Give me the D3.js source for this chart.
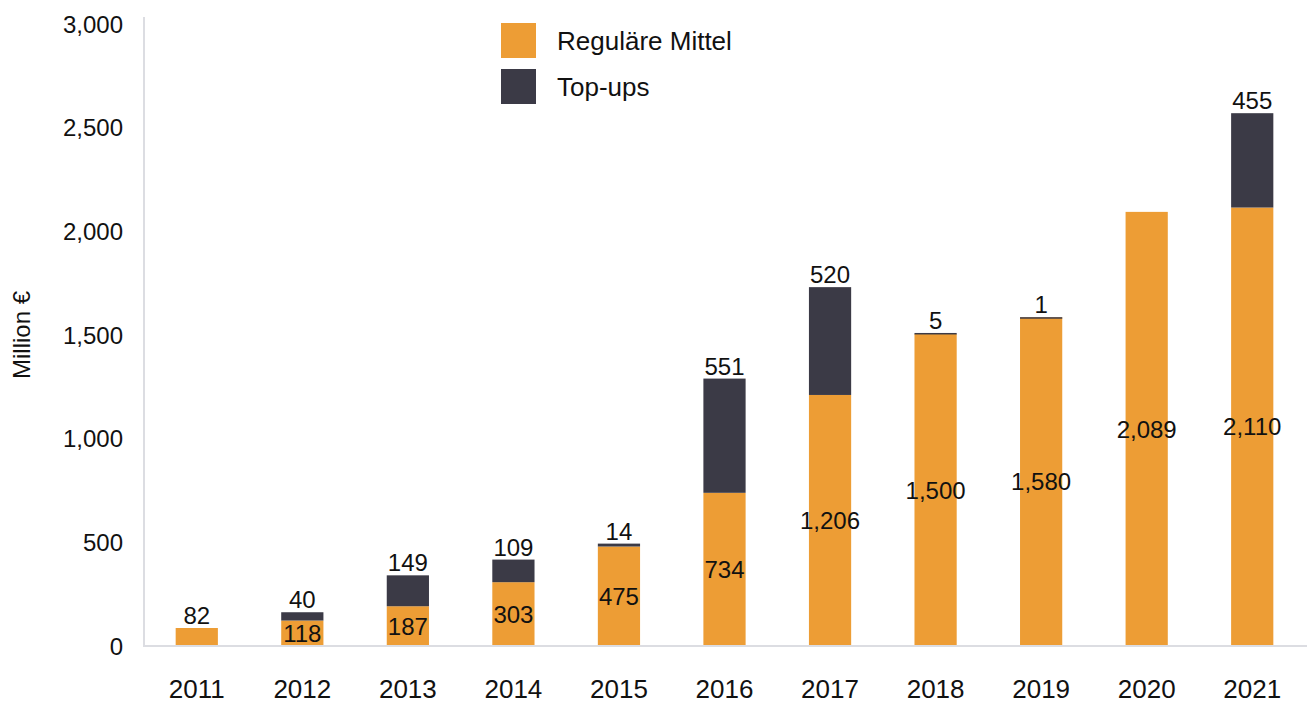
<!DOCTYPE html>
<html>
<head>
<meta charset="utf-8">
<script src="https://cdn.jsdelivr.net/npm/d3@7"></script>
<style>
  html, body { margin: 0; padding: 0; background: #fff; }
  svg { display: block; }
</style>
</head>
<body>
<svg id="chart" width="1307" height="704"></svg>
<script>
const years = ["2011","2012","2013","2014","2015","2016","2017","2018","2019","2020","2021"];
const regular = [82, 118, 187, 303, 475, 734, 1206, 1500, 1580, 2089, 2110];
const topups = [0, 40, 149, 109, 14, 551, 520, 5, 1, 0, 455];
const yTicks = [0, 500, 1000, 1500, 2000, 2500, 3000];
const seriesNames = ["Reguläre Mittel", "Top-ups"];
const colors = ["#ED9D35", "#3B3A46"];

const svg = d3.select("#chart");
const fmt = d3.format(",");
const sans = "'Liberation Sans', Arial, sans-serif";
const narrow = "'Liberation Sans Narrow', 'Liberation Sans', Arial, sans-serif";

const x = d3.scaleBand().domain(years).range([144, 1305]).paddingInner(0.6).paddingOuter(0.3);
const y = d3.scaleLinear().domain([0, 3000]).range([645, 23]);

// axis lines
svg.append("line").attr("x1", 144).attr("x2", 144).attr("y1", 17).attr("y2", 647)
  .attr("stroke", "#dcdde2").attr("stroke-width", 2);
svg.append("line").attr("x1", 143).attr("x2", 1307).attr("y1", 646).attr("y2", 646)
  .attr("stroke", "#dcdde2").attr("stroke-width", 2);

// y axis
const yAxis = svg.append("g").attr("transform", "translate(144,0)")
  .call(d3.axisLeft(y).tickValues(yTicks).tickSize(0).tickPadding(21).tickFormat(fmt));
yAxis.select(".domain").remove();
yAxis.selectAll("text").attr("font-family", sans).attr("font-size", 24).attr("fill", "#111")
  .attr("dy", "0.38em");

// x axis
const xAxis = svg.append("g").attr("transform", "translate(0,646)")
  .call(d3.axisBottom(x).tickSize(0).tickPadding(43));
xAxis.select(".domain").remove();
xAxis.selectAll("text").attr("font-family", narrow).attr("font-size", 26).attr("fill", "#111")
  .attr("dy", "0.36em");

// y axis title
svg.append("text").attr("transform", "translate(30,335) rotate(-90)")
  .attr("text-anchor", "middle").attr("font-family", sans).attr("font-size", 24)
  .attr("fill", "#111").text("Million €");

// bars
const data = years.map((yr, i) => ({ yr, reg: regular[i], top: topups[i] }));
const g = svg.append("g");
g.selectAll(".reg").data(data).enter().append("rect")
  .attr("x", d => x(d.yr)).attr("width", x.bandwidth())
  .attr("y", d => y(d.reg)).attr("height", d => y(0) - y(d.reg))
  .attr("fill", colors[0]);
g.selectAll(".top").data(data.filter(d => d.top > 0)).enter().append("rect")
  .attr("x", d => x(d.yr)).attr("width", x.bandwidth())
  .attr("y", d => y(d.reg + d.top)).attr("height", d => Math.max(1.5, y(d.reg) - y(d.reg + d.top)))
  .attr("fill", colors[1]);

// labels
const lab = svg.append("g").attr("font-family", sans).attr("font-size", 24).attr("fill", "#111")
  .attr("text-anchor", "middle");
data.forEach(d => {
  const cx = x(d.yr) + x.bandwidth() / 2;
  const h = y(0) - y(d.reg);
  if (h < 22 && d.top === 0) {
    lab.append("text").attr("x", cx).attr("y", y(d.reg) - 4).text(fmt(d.reg));
  } else {
    lab.append("text").attr("x", cx).attr("y", (y(0) + y(d.reg)) / 2).attr("dy", "0.38em").text(fmt(d.reg));
  }
  if (d.top > 0) {
    lab.append("text").attr("x", cx).attr("y", y(d.reg + d.top) - 4).text(fmt(d.top));
  }
});

// legend
const leg = svg.append("g");
seriesNames.forEach((n, i) => {
  const yy = 23 + i * 46;
  leg.append("rect").attr("x", 501).attr("y", yy).attr("width", 35).attr("height", 35).attr("fill", colors[i]);
  leg.append("text").attr("x", 557).attr("y", yy + 17.5).attr("dy", "0.36em")
    .attr("font-family", sans).attr("font-size", 26).attr("fill", "#111").text(n);
});
</script>
</body>
</html>
